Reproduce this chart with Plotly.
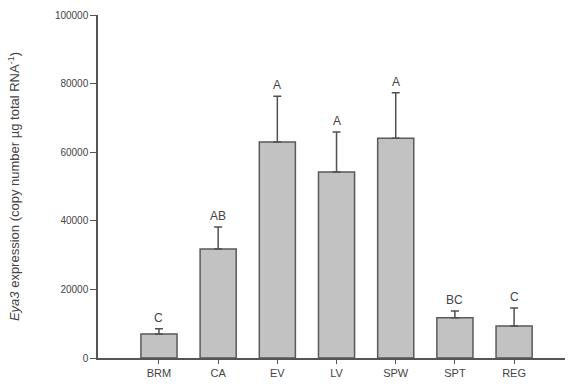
import plotly.graph_objects as go

categories = ["BRM", "CA", "EV", "LV", "SPW", "SPT", "REG"]
means = [7000, 31800, 63000, 54200, 64100, 11700, 9300]
errors = [1500, 6400, 13300, 11700, 13200, 2000, 5300]
letters = ["C", "AB", "A", "A", "A", "BC", "C"]
y_ticks = [0, 20000, 40000, 60000, 80000, 100000]

xpos = list(range(len(categories)))

fig = go.Figure()
fig.add_trace(go.Bar(
    x=xpos, y=means, width=0.61,
    marker=dict(color="#c2c2c2", line=dict(color="#5a5a5a", width=1.5)),
    error_y=dict(type="data", array=errors, arrayminus=[0]*len(errors),
                 symmetric=False, color="#505050", thickness=1.5, width=4),
    showlegend=False,
))

for x, m, e, t in zip(xpos, means, errors, letters):
    fig.add_annotation(x=x, y=m + e, text=t, showarrow=False, yanchor="bottom",
                       yshift=2, font=dict(family="Arial", size=12, color="#444"))

fig.update_layout(
    width=569, height=388,
    margin=dict(l=98, r=4, t=15, b=30),
    plot_bgcolor="white", paper_bgcolor="white",
    font=dict(family="Arial", color="#444"),
    bargap=0.4,
)
fig.update_xaxes(
    range=[-1.03, 6.86], tickvals=xpos, ticktext=categories,
    showline=True, linecolor="#555", linewidth=1.5,
    ticks="outside", ticklen=4, tickcolor="#555",
    showgrid=False, zeroline=False, tickfont=dict(size=11, color="#444"),
)
fig.update_yaxes(
    range=[0, 100000], tickvals=y_ticks, ticktext=[str(v) for v in y_ticks],
    showline=True, linecolor="#555", linewidth=1.5,
    ticks="outside", ticklen=6, tickcolor="#555",
    showgrid=False, zeroline=False, tickfont=dict(size=10, color="#444"),
    title=dict(text="<i>Eya3</i> expression (copy number µg total RNA<sup>-1</sup>)",
               font=dict(size=13, color="#444"), standoff=32),
)

fig.write_html("out.html")
